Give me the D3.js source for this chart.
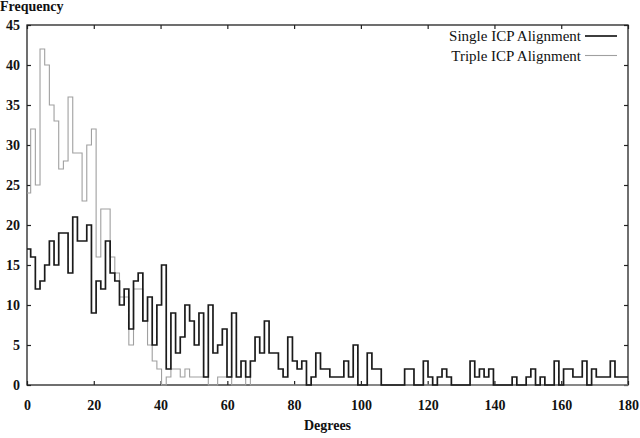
<!DOCTYPE html>
<html>
<head>
<meta charset="utf-8">
<script src="https://cdn.jsdelivr.net/npm/d3@7"></script>
<style>
  body { margin: 0; background: #fff; }
  svg text { font-family: "Liberation Serif", "Times New Roman", serif; fill: #111; }
  .axis text { font-size: 14px; font-weight: bold; }
  .axis line { stroke: #222; stroke-width: 1.2; }
</style>
</head>
<body>
<div id="main"></div>
<script>

// histogram bins: first edge sits just left of 0, each bin is 1.4 degrees wide
var binStart = -0.3,
	binWidth = 1.4

// counts per bin
var single = [17, 16, 12, 13, 15, 18, 15, 19, 19, 14, 21, 18, 18, 20, 9, 13, 12, 18, 14, 13,
	10, 12, 7, 13, 14, 8, 11, 5, 10, 15, 2, 9, 4, 6, 10, 8, 5, 9, 1, 10,
	4, 5, 7, 1, 9, 1, 3, 1, 3, 6, 4, 8, 4, 4, 2, 1, 6, 3, 2, 3,
	0, 1, 4, 2, 2, 1, 1, 1, 3, 1, 5, 0, 0, 4, 2, 2, 0, 0, 0, 0,
	0, 2, 2, 0, 0, 3, 1, 0, 1, 2, 1, 0, 0, 0, 0, 3, 1, 2, 1, 2,
	0, 0, 0, 0, 1, 0, 0, 1, 2, 0, 1, 0, 0, 3, 0, 2, 2, 1, 1, 3,
	0, 2, 1, 1, 1, 3, 1, 1, 1]

var triple = [24, 32, 25, 42, 40, 35, 33, 27, 28, 36, 29, 29, 23, 30, 32, 16, 22, 22, 16, 14,
	11, 11, 5, 12, 12, 8, 5, 3, 2, 0, 1, 2, 2, 1, 2, 1, 1, 1, 1, 0,
	0, 1, 1, 1, 0, 0, 0, 1, 0, 0, 0, 0, 0, 0, 0, 0, 0, 0, 0, 0,
	0, 0, 0, 0, 0, 0, 0, 0, 0, 0, 0, 0, 0, 0, 0, 0, 0, 0, 0, 0,
	0, 0, 0, 0, 0, 0, 0, 0, 0, 0, 0, 0, 0, 0, 0, 0, 0, 0, 0, 0,
	0, 0, 0, 0, 0, 0, 0, 0, 0, 0, 0, 0, 0, 0, 0, 0, 0, 0, 0, 0,
	0, 0, 0, 0, 0, 0, 0, 0, 0]

var xTicks = [0, 20, 40, 60, 80, 100, 120, 140, 160, 180],
	yTicks = [0, 5, 10, 15, 20, 25, 30, 35, 40, 45]

var seriesNames = ["Single ICP Alignment", "Triple ICP Alignment"]

var W = 640, H = 438
var margin = { top: 25, left: 27, right: 12, bottom: 53 }

var svg = d3.select("#main")
	.append("svg")
	.attr("width", W)
	.attr("height", H)

var x = d3.scaleLinear()
	.domain([0, 180])
	.range([margin.left, W - margin.right])

var y = d3.scaleLinear()
	.domain([0, 45])
	.range([H - margin.bottom, margin.top])

// turn counts into step points
function steps(counts) {
	var pts = counts.map(function(c, i) {
		return [Math.max(0, binStart + i * binWidth), c]
	})
	pts.push([180, counts[counts.length - 1]])
	return pts
}

var line = d3.line()
	.x(function(d) { return x(d[0]) })
	.y(function(d) { return y(d[1]) })
	.curve(d3.curveStepAfter)

// axes, ticks pointing inward
svg.append("g")
	.attr("class", "axis")
	.attr("transform", "translate(0," + y(0) + ")")
	.call(d3.axisBottom(x).tickValues(xTicks).tickSize(-4).tickPadding(15))

svg.append("g")
	.attr("class", "axis")
	.attr("transform", "translate(0," + y(45) + ")")
	.call(d3.axisTop(x).tickValues(xTicks).tickSize(-4).tickFormat(""))

svg.append("g")
	.attr("class", "axis")
	.attr("transform", "translate(" + x(0) + ",0)")
	.call(d3.axisLeft(y).tickValues(yTicks).tickSize(-4).tickPadding(7))

svg.append("g")
	.attr("class", "axis")
	.attr("transform", "translate(" + x(180) + ",0)")
	.call(d3.axisRight(y).tickValues(yTicks).tickSize(-4).tickFormat(""))

svg.selectAll(".axis .domain").remove()

svg.append("rect")
	.attr("x", x(0))
	.attr("y", y(45))
	.attr("width", x(180) - x(0))
	.attr("height", y(0) - y(45))
	.attr("fill", "none")
	.attr("stroke", "#222")
	.attr("stroke-width", 1.3)

svg.append("path")
	.datum(steps(triple))
	.attr("d", line)
	.attr("fill", "none")
	.attr("stroke", "#a0a0a0")
	.attr("stroke-width", 1.1)

svg.append("path")
	.datum(steps(single))
	.attr("d", line)
	.attr("fill", "none")
	.attr("stroke", "#1a1a1a")
	.attr("stroke-width", 1.7)

// titles
svg.append("text")
	.attr("x", 0)
	.attr("y", 11)
	.style("font-size", "14px")
	.style("font-weight", "bold")
	.text("Frequency")

svg.append("text")
	.attr("x", (x(0) + x(180)) / 2)
	.attr("y", 430)
	.attr("text-anchor", "middle")
	.style("font-size", "14px")
	.style("font-weight", "bold")
	.text("Degrees")

// legend
var legend = svg.append("g")
	.selectAll("g")
	.data(seriesNames)
	.enter()
	.append("g")
	.attr("transform", function(d, i) { return "translate(0," + (36 + i * 19.5) + ")" })

legend.append("text")
	.attr("x", 581)
	.attr("y", 5)
	.attr("text-anchor", "end")
	.style("font-size", "15px")
	.text(function(d) { return d })

legend.append("line")
	.attr("x1", 585)
	.attr("x2", 617)
	.attr("stroke", function(d, i) { return i == 0 ? "#1a1a1a" : "#a0a0a0" })
	.attr("stroke-width", function(d, i) { return i == 0 ? 1.7 : 1.1 })

</script>
</body>
</html>
